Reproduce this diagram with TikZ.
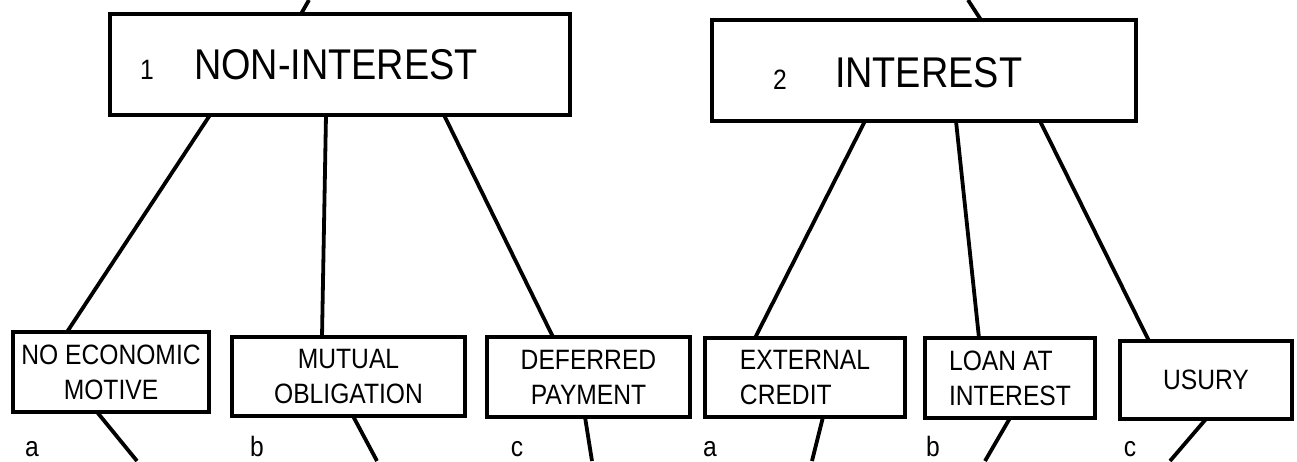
\documentclass[tikz,border=0pt]{standalone}
\usepackage{fontspec}
\usetikzlibrary{calc}
\newfontfamily\plotfont[FakeStretch=0.88]{Liberation Sans}
\tikzset{
  box/.style={draw, line width=1.6pt, rectangle, inner sep=0pt, outer sep=0pt},
  small/.style={font=\plotfont\fontsize{14}{17.5}\selectfont},
  big/.style={font=\plotfont\fontsize{21.5}{24}\selectfont},
  conn/.style={line width=1.9pt},
  txt/.style={inner sep=0pt, outer sep=0pt}
}
\begin{document}
\begin{tikzpicture}[x=0.5pt, y=-0.5pt]
\useasboundingbox (0,0) rectangle (1297,461);
% top boxes
\node[box, minimum width=230pt, minimum height=50.5pt] (n1) at (340,64.5) {};
\node[box, minimum width=212pt, minimum height=50.5pt] (n2) at (924,70.5) {};
\node[txt, small, anchor=base] (n1num) at (147,79) {1};
\node[txt, big, anchor=base west] (n1txt) at (194,79) {NON-INTEREST};
\node[txt, small, anchor=base] (n2num) at (780,89) {2};
\node[txt, big, anchor=base west] (n2txt) at (835,87) {INTEREST};
% bottom boxes
\node[box, small, align=center, minimum width=98pt, minimum height=40pt] (b1) at (111,372) {NO ECONOMIC\\MOTIVE};
\node[box, small, align=center, minimum width=116.5pt, minimum height=39.5pt] (b2) at (348.5,376.5) {MUTUAL\\OBLIGATION};
\node[box, small, align=center, minimum width=101.5pt, minimum height=40pt] (b3) at (588.5,377) {DEFERRED\\PAYMENT};
\node[box, small, align=left, minimum width=100pt, minimum height=39.5pt] (b4) at (805,377.5) {EXTERNAL\\CREDIT};
\node[box, small, align=left, minimum width=85pt, minimum height=40pt] (b5) at (1010,378) {LOAN AT\\INTEREST};
\node[box, small, align=center, minimum width=86pt, minimum height=39pt] (b6) at (1206,380) {USURY};
% letters
\node[txt, small, anchor=base] (la1) at (32,456) {a};
\node[txt, small, anchor=base] (lb1) at (257,456) {b};
\node[txt, small, anchor=base] (lc1) at (517,456) {c};
\node[txt, small, anchor=base] (la2) at (710,456) {a};
\node[txt, small, anchor=base] (lb2) at (933,456) {b};
\node[txt, small, anchor=base] (lc2) at (1130,456) {c};
% free ends
\coordinate (t1) at (309,0);
\coordinate (t2) at (968,0);
\coordinate (e1) at (137,461);
\coordinate (e2) at (377,461);
\coordinate (e3) at (592,461);
\coordinate (e4) at (812,461);
\coordinate (e5) at (985,461);
\coordinate (e6) at (1170,461);
% connectors
\draw[conn] ($(n1.north west)+(191,0)$) -- (t1);
\draw[conn] ($(n2.north west)+(269,0)$) -- (t2);
\draw[conn] ($(n1.south west)+(100,0)$) -- ($(b1.north west)+(54,0)$);
\draw[conn] ($(n1.south west)+(216,0)$) -- ($(b2.north west)+(90,0)$);
\draw[conn] ($(n1.south west)+(334,0)$) -- ($(b3.north west)+(66,0)$);
\draw[conn] ($(n2.south west)+(153,0)$) -- ($(b4.north west)+(50,0)$);
\draw[conn] ($(n2.south west)+(244,0)$) -- ($(b5.north west)+(54,0)$);
\draw[conn] ($(n2.south west)+(328,0)$) -- ($(b6.north west)+(29,0)$);
\draw[conn] ($(b1.south west)+(84,0)$) -- (e1);
\draw[conn] ($(b2.south west)+(121,0)$) -- (e2);
\draw[conn] ($(b3.south west)+(98,0)$) -- (e3);
\draw[conn] ($(b4.south west)+(118,0)$) -- (e4);
\draw[conn] ($(b5.south west)+(85,0)$) -- (e5);
\draw[conn] ($(b6.south west)+(86,0)$) -- (e6);
\end{tikzpicture}
\end{document}
